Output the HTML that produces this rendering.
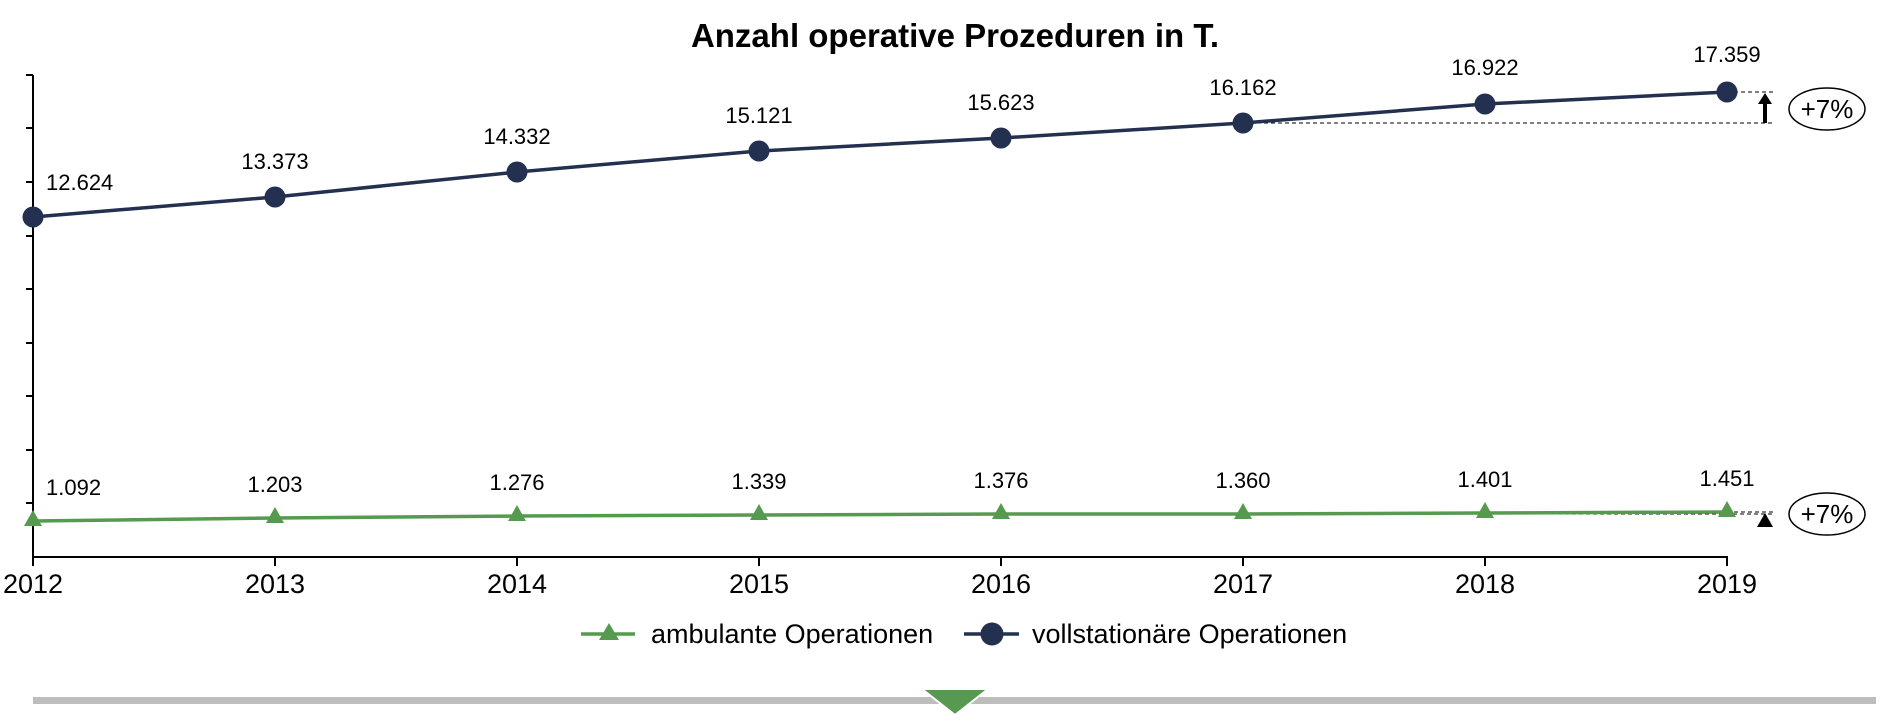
<!DOCTYPE html>
<html><head><meta charset="utf-8"><style>
html,body{margin:0;padding:0;background:#fff;}
svg{display:block;font-family:"Liberation Sans",Arial,sans-serif;}
</style></head><body>
<svg width="1897" height="726" viewBox="0 0 1897 726" xmlns="http://www.w3.org/2000/svg">
<text x="955" y="47" font-size="33" font-weight="bold" text-anchor="middle" fill="#000">Anzahl operative Prozeduren in T.</text>
<line x1="33" y1="75" x2="33" y2="557" stroke="#000" stroke-width="2"/>
<line x1="32" y1="557" x2="1728" y2="557" stroke="#000" stroke-width="2"/>
<g stroke="#000" stroke-width="2">
<line x1="26" y1="75" x2="33" y2="75"/><line x1="26" y1="128" x2="33" y2="128"/><line x1="26" y1="182" x2="33" y2="182"/>
<line x1="26" y1="236" x2="33" y2="236"/><line x1="26" y1="289" x2="33" y2="289"/><line x1="26" y1="343" x2="33" y2="343"/>
<line x1="26" y1="396" x2="33" y2="396"/><line x1="26" y1="450" x2="33" y2="450"/><line x1="26" y1="503" x2="33" y2="503"/>
<line x1="33" y1="557" x2="33" y2="566"/><line x1="275" y1="557" x2="275" y2="566"/><line x1="517" y1="557" x2="517" y2="566"/>
<line x1="759" y1="557" x2="759" y2="566"/><line x1="1001" y1="557" x2="1001" y2="566"/><line x1="1243" y1="557" x2="1243" y2="566"/>
<line x1="1485" y1="557" x2="1485" y2="566"/><line x1="1727" y1="557" x2="1727" y2="566"/>
</g>
<g font-size="27" text-anchor="middle" fill="#000">
<text x="33" y="593">2012</text><text x="275" y="593">2013</text><text x="517" y="593">2014</text><text x="759" y="593">2015</text>
<text x="1001" y="593">2016</text><text x="1243" y="593">2017</text><text x="1485" y="593">2018</text><text x="1727" y="593">2019</text>
</g>
<g stroke="#000" stroke-width="1" stroke-dasharray="4,3">
<line x1="1243" y1="123" x2="1775" y2="123"/><line x1="1727" y1="92" x2="1775" y2="92"/>
<line x1="1243" y1="514" x2="1775" y2="514"/><line x1="1727" y1="512" x2="1775" y2="512"/>
</g>
<polyline fill="none" stroke="#23304f" stroke-width="3.5" points="33,217 275,197 517,172 759,151 1001,138 1243,123 1485,104 1727,92"/>
<g fill="#23304f">
<circle cx="33" cy="217" r="10.5"/><circle cx="275" cy="197" r="10.5"/><circle cx="517" cy="172" r="10.5"/><circle cx="759" cy="151" r="10.5"/>
<circle cx="1001" cy="138" r="10.5"/><circle cx="1243" cy="123" r="10.5"/><circle cx="1485" cy="104" r="10.5"/><circle cx="1727" cy="92" r="10.5"/>
</g>
<g font-size="22" text-anchor="middle" fill="#000">
<text x="46" y="190" text-anchor="start">12.624</text><text x="275" y="169">13.373</text><text x="517" y="144">14.332</text><text x="759" y="123">15.121</text>
<text x="1001" y="110">15.623</text><text x="1243" y="95">16.162</text><text x="1485" y="75">16.922</text><text x="1727" y="62">17.359</text>
</g>
<polyline fill="none" stroke="#559a4f" stroke-width="3.5" points="33,521 275,518 517,516 759,515 1001,514 1243,514 1485,513 1727,512"/>
<g fill="#559a4f">
<polygon points="33,510 24,526 42,526"/><polygon points="275,507 266,523 284,523"/><polygon points="517,505 508,521 526,521"/>
<polygon points="759,504 750,520 768,520"/><polygon points="1001,503 992,519 1010,519"/><polygon points="1243,503 1234,519 1252,519"/>
<polygon points="1485,502 1476,518 1494,518"/><polygon points="1727,501 1718,517 1736,517"/>
</g>
<g font-size="22" text-anchor="middle" fill="#000">
<text x="46" y="495" text-anchor="start">1.092</text><text x="275" y="492">1.203</text><text x="517" y="490">1.276</text><text x="759" y="489">1.339</text>
<text x="1001" y="488">1.376</text><text x="1243" y="488">1.360</text><text x="1485" y="487">1.401</text><text x="1727" y="486">1.451</text>
</g>
<rect x="1763" y="102" width="4" height="21" fill="#000"/>
<polygon points="1765,93 1758,104 1772,104" fill="#000"/>
<polygon points="1765,513 1757,527 1773,527" fill="#000"/>
<ellipse cx="1827" cy="109" rx="38" ry="21" fill="#fff" stroke="#000" stroke-width="1.5"/>
<text x="1827" y="118" font-size="26" text-anchor="middle">+7%</text>
<ellipse cx="1827" cy="514" rx="38" ry="21" fill="#fff" stroke="#000" stroke-width="1.5"/>
<text x="1827" y="523" font-size="26" text-anchor="middle">+7%</text>
<line x1="581" y1="634" x2="635" y2="634" stroke="#559a4f" stroke-width="3.5"/>
<polygon points="609,623 599,640 619,640" fill="#559a4f"/>
<text x="651" y="643" font-size="27">ambulante Operationen</text>
<line x1="964" y1="634" x2="1019" y2="634" stroke="#23304f" stroke-width="3.5"/>
<circle cx="992" cy="634" r="11.5" fill="#23304f"/>
<text x="1032" y="643" font-size="27">vollstationäre Operationen</text>
<rect x="33" y="697" width="1843" height="7" fill="#bdbdbd"/>
<polygon points="922,689 988,689 955,715" fill="#559a4f" stroke="#fff" stroke-width="2"/>
</svg>
</body></html>
